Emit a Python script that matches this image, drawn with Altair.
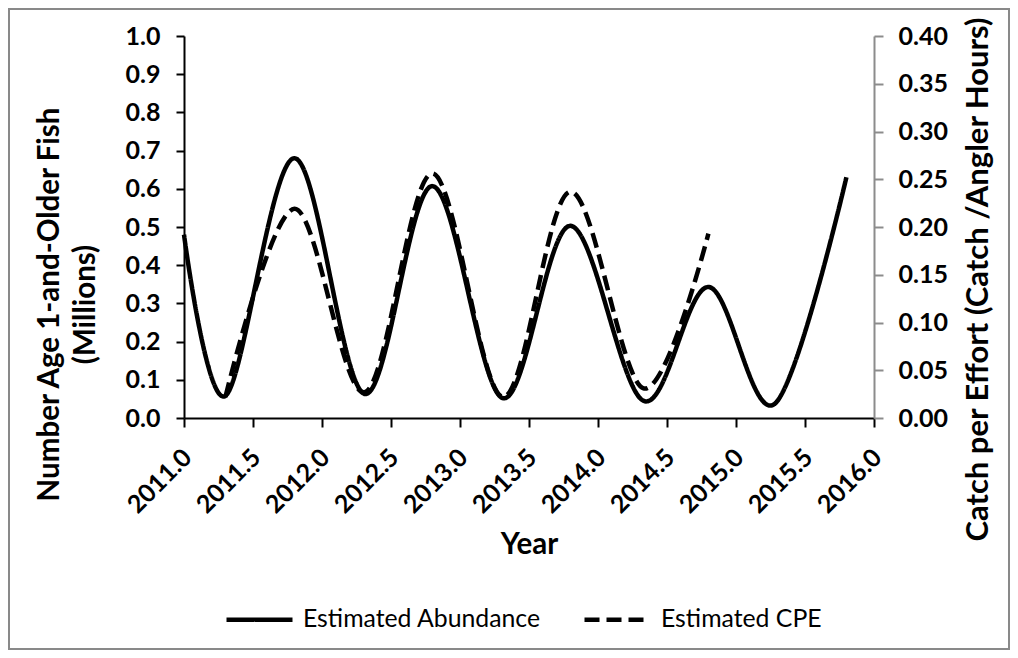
import altair as alt
import pandas as pd

# ---- data ----
abund_year = [2011.0, 2011.3, 2011.8, 2012.31, 2012.8, 2013.31, 2013.8, 2014.33, 2014.8, 2015.28, 2015.8]
abund_val = [0.48, 0.058, 0.68, 0.063, 0.607, 0.052, 0.503, 0.045, 0.343, 0.037, 0.63]

cpe_year = [2011.3, 2011.8, 2012.31, 2012.8, 2013.31, 2013.8, 2014.33, 2014.8]
cpe_val = [0.022, 0.219, 0.027, 0.256, 0.022, 0.237, 0.031, 0.193]

series_names = ["Estimated Abundance", "Estimated CPE"]
x_ticks = [2011.0, 2011.5, 2012.0, 2012.5, 2013.0, 2013.5, 2014.0, 2014.5, 2015.0, 2015.5, 2016.0]
left_ticks = [0.0, 0.1, 0.2, 0.3, 0.4, 0.5, 0.6, 0.7, 0.8, 0.9, 1.0]
right_ticks = [0.0, 0.05, 0.10, 0.15, 0.20, 0.25, 0.30, 0.35, 0.40]

abund_df = pd.DataFrame({"year": abund_year, "value": abund_val, "series": series_names[0]})
cpe_df = pd.DataFrame({"year": cpe_year, "value": cpe_val, "series": series_names[1]})

FONT = "Lato"
W, H = 690, 382
LABEL_SIZE = 25
TITLE_SIZE = 29.5

dash_scale = alt.Scale(domain=series_names, range=[[1, 0], [15, 7]])

x_enc = alt.X(
    "year:Q",
    scale=alt.Scale(domain=[2011, 2016], nice=False, zero=False),
    axis=alt.Axis(
        values=x_ticks, format=".1f", labelAngle=-45, labelAlign="right", labelBaseline="middle",
        labelPadding=26, labelOverlap=False, labelFlush=False, labelOffset=3,
        tickSize=9, tickWidth=2, tickColor="black", domainColor="black", domainWidth=2,
        labelFont=FONT, labelFontSize=LABEL_SIZE, labelFontWeight="bold", labelColor="black",
        title="Year", titleFont=FONT, titleFontSize=TITLE_SIZE, titleFontWeight="bold", titleColor="black",
        titleX=W / 2, titleY=135, titleBaseline="alphabetic", titleAlign="center",
        grid=False,
    ),
)

border = alt.Chart(pd.DataFrame({"a": [0]})).mark_rect(
    fill="transparent", stroke="#898989", strokeWidth=2
).encode(x=alt.value(-175), x2=alt.value(825), y=alt.value(-27), y2=alt.value(613))

left = alt.Chart(abund_df).mark_line(
    interpolate="cardinal", tension=0, color="black", strokeWidth=4.5
).encode(
    x=x_enc,
    y=alt.Y(
        "value:Q",
        scale=alt.Scale(domain=[0, 1], nice=False),
        axis=alt.Axis(
            values=left_ticks, format=".1f", orient="left", tickSize=8, tickWidth=2,
            tickColor="black", domainColor="black", domainWidth=2,
            labelFont=FONT, labelFontSize=LABEL_SIZE, labelFontWeight="bold", labelColor="black",
            labelPadding=16, labelOverlap=False,
            title=["Number Age 1-and-Older Fish", "(Millions)"], titleFont=FONT, titleFontSize=TITLE_SIZE,
            titleFontWeight="bold", titleColor="black", titleAngle=270, titleAlign="center",
            titleBaseline="alphabetic", titleLineHeight=36, titleX=-126, titleY=268, grid=False,
        ),
    ),
    strokeDash=alt.StrokeDash(
        "series:N", scale=dash_scale,
        legend=alt.Legend(
            orient="none", legendX=40, legendY=548, direction="horizontal", title=None,
            symbolType="stroke", symbolSize=4356, symbolStrokeWidth=4.5, symbolStrokeColor="black",
            labelFont=FONT, labelFontSize=24.8, labelColor="black", labelOffset=8, columnPadding=34,
            labelLimit=0, padding=0,
        ),
    ),
)

right = alt.Chart(cpe_df).mark_line(
    interpolate="cardinal", tension=0, color="black", strokeWidth=4.5
).encode(
    x=x_enc,
    y=alt.Y(
        "value:Q",
        scale=alt.Scale(domain=[0, 0.4], nice=False),
        axis=alt.Axis(
            values=right_ticks, format=".2f", orient="right", tickSize=9, tickWidth=2,
            tickColor="#8c8c8c", domainColor="#8c8c8c", domainWidth=2,
            labelFont=FONT, labelFontSize=LABEL_SIZE, labelFontWeight="bold", labelColor="black",
            labelPadding=15, labelOverlap=False,
            title="Catch per Effort (Catch /Angler Hours)", titleFont=FONT, titleFontSize=31,
            titleFontWeight="bold", titleColor="black", titleAngle=270, titleAlign="center",
            titleBaseline="alphabetic", titleX=113, titleY=243, grid=False,
        ),
    ),
    strokeDash=alt.StrokeDash("series:N", scale=dash_scale),
)

chart = alt.layer(border, left, right).resolve_scale(y="independent").properties(
    width=W, height=H,
    autosize=alt.AutoSizeParams(type="none"),
    padding={"left": 176, "top": 28, "right": 136, "bottom": 232},
    background="white",
).configure_view(stroke="transparent")

chart.save("out.html", embed_options={"renderer": "svg", "actions": False})
